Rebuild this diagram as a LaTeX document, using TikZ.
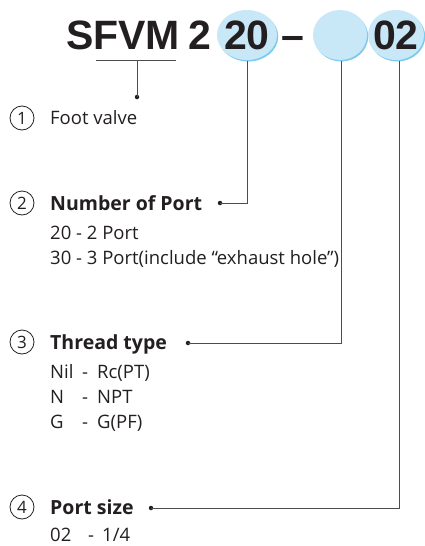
\documentclass[tikz,border=0pt]{standalone}
\usepackage{fontspec}
\setmainfont{Open Sans}
\newfontfamily\hdrfont{Liberation Sans}
\definecolor{txt}{HTML}{231F20}
\definecolor{bubble}{HTML}{C8E8F8}
\definecolor{bubbleedge}{HTML}{7CCBEF}
\begin{document}
\begin{tikzpicture}[x=1pt,y=-1pt,
  hdr/.style={font=\hdrfont\bfseries\fontsize{41}{41}\selectfont, text=txt, inner sep=0pt, anchor=base},
  lbl/.style={font=\fontsize{18.5}{20}\selectfont, text=txt, inner sep=0pt, anchor=base west},
  lblb/.style={font=\bfseries\fontsize{19.5}{20}\selectfont, text=txt, inner sep=0pt, anchor=base west},
  num/.style={circle, draw=txt, line width=0.8pt, minimum size=24pt, inner sep=0pt, font=\fontsize{17}{17}\selectfont, text=txt},
  conn/.style={draw=txt!80, line width=0.8pt},
  dotc/.style={circle, fill=txt, inner sep=0pt, minimum size=4.5pt},
]
\useasboundingbox (0,0) rectangle (425,546);
% bubbles
\foreach \cx/\rx/\nm in {247/30/b1, 340/27/b2, 396/28/b3}{
  \fill[bubbleedge] (\cx+1.2,36.5) ellipse [x radius=\rx, y radius=25];
  \fill[bubble] (\cx,35) ellipse [x radius=\rx, y radius=25];
  \coordinate (\nm) at (\cx,60);
}
% header text
\node[hdr, anchor=base west] (sfvm) at (66,49) {SFVM};
\node[hdr] (two) at (200,49) {2};
\node[hdr] (p20) at (247,49) {20};
\node[hdr] (dash) at (293,49) {–};
\node[hdr] (p02) at (396,49) {02};
\draw[conn] (96,60) -- (176,60);
\coordinate (u1) at (137,60);
\coordinate (c1) at (247,61);
\coordinate (c2) at (341,61);
\coordinate (c3) at (399,61);

% items
\node[num] (n1) at (22,118) {1};
\node[lbl] (t1) at (50,124) {Foot valve};

\node[num] (n2) at (22,203) {2};
\node[lblb] (t2) at (50,210) {Number of Port};
\node[lbl] (t2a) at (50,239) {20 - 2 Port};
\node[lbl] (t2b) at (50,264) {30 - 3 Port(include “exhaust hole”)};

\node[num] (n3) at (22,342) {3};
\node[lblb] (t3) at (50,349) {Thread type};
\node[lbl] (t3a) at (50,378) {Nil};
\node[lbl] (t3ad) at (82,378) {-};
\node[lbl] (t3ab) at (97,378) {Rc(PT)};
\node[lbl] (t3b) at (50,403) {N};
\node[lbl] (t3bd) at (82,403) {-};
\node[lbl] (t3bb) at (97,403) {NPT};
\node[lbl] (t3c) at (50,428) {G};
\node[lbl] (t3cd) at (82,428) {-};
\node[lbl] (t3cb) at (97,428) {G(PF)};

\node[num] (n4) at (22,507) {4};
\node[lblb] (t4) at (50,514) {Port size};
\node[lbl] (t4a) at (50,541) {02};
\node[lbl] (t4ad) at (88,541) {-};
\node[lbl] (t4ab) at (102,541) {1/4};

% connectors
\node[dotc] (d1) at (137,97) {};
\node[dotc] (d2) at (220,203) {};
\node[dotc] (d3) at (188,343) {};
\node[dotc] (d4) at (151,508) {};
\draw[conn] (u1) -- (d1.center);
\draw[conn] (c1) |- (d2.center);
\draw[conn] (c2) |- (d3.center);
\draw[conn] (c3) |- (d4.center);
\end{tikzpicture}
\end{document}
